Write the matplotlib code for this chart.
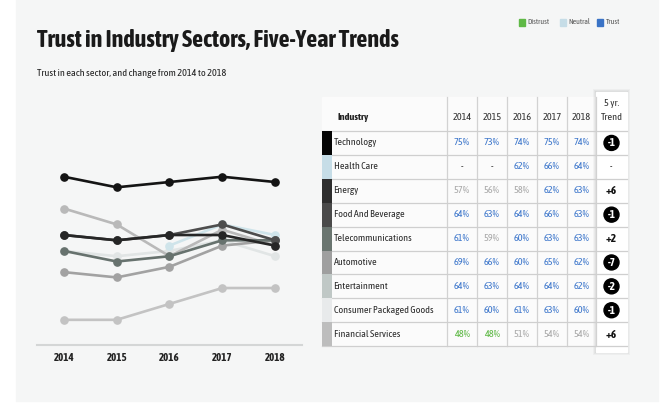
import matplotlib
matplotlib.use("Agg")
import matplotlib.pyplot as plt
from matplotlib.patches import Rectangle, Circle
from matplotlib import font_manager

# ---- data -------------------------------------------------------------
years = [2014, 2015, 2016, 2017, 2018]
industries = [
    "Technology", "Health Care", "Energy", "Food And Beverage",
    "Telecommunications", "Automotive", "Entertainment",
    "Consumer Packaged Goods", "Financial Services",
]
technology = [75, 73, 74, 75, 74]
health_care = [None, None, 62, 66, 64]
energy = [57, 56, 58, 62, 63]
food_beverage = [64, 63, 64, 66, 63]
telecom = [61, 59, 60, 63, 63]
automotive = [69, 66, 60, 65, 62]
entertainment = [64, 63, 64, 64, 62]
packaged_goods = [61, 60, 61, 63, 60]
financial = [48, 48, 51, 54, 54]
series = [technology, health_care, energy, food_beverage, telecom,
          automotive, entertainment, packaged_goods, financial]

legend_labels = ["Distrust", "Neutral", "Trust"]

# ---- fonts ------------------------------------------------------------
entries = font_manager.fontManager.ttflist
names = sorted({f.name for f in entries})
condensed = [n for n in names if "Narrow" in n or "Condensed" in n]


def is_bold(f):
    w = f.weight
    if isinstance(w, str):
        return w.lower() in ("bold", "heavy", "black", "semibold",
                             "demibold", "extra bold", "ultrabold")
    return w >= 600


bold_families = {f.name for f in entries if is_bold(f)}
cond_bold = [n for n in condensed if n in bold_families]

if cond_bold:
    base_font = cond_bold[0]
elif condensed:
    base_font = condensed[0]
else:
    base_font = "Liberation Sans"
base_scale = 1.0 if condensed else 0.86

if cond_bold:
    bold_font, bold_scale = base_font, 1.0
else:
    bold_font, bold_scale = "Liberation Sans", 0.87

plt.rcParams["font.family"] = [base_font, "DejaVu Sans"]
BOLD = [bold_font, "DejaVu Sans"]


def fs(pt):
    return pt * base_scale


def fb(pt):
    return pt * bold_scale


swatch_colors = ["#050505", "#c6dde7", "#2e2e2e", "#4a4a4a", "#6a7570",
                 "#9f9f9f", "#c0c8c6", "#e8eaeb", "#bdbdbd"]
line_colors = ["#141414", "#cfe4ea", "#a2a2a2", "#4d4d4d", "#67726e",
               "#b9b9b9", "#262626", "#e1e5e5", "#c3c3c3"]
draw_order = [7, 1, 8, 5, 2, 4, 3, 6, 0]
level_colors = {"Distrust": "#5fb946", "Neutral": "#a9a9a9", "Trust": "#3f78cc"}
legend_colors = ["#5fb946", "#c6dde7", "#3a73c6"]
panel_color = "#f5f6f6"


def level(v):
    if v >= 60:
        return "Trust"
    if v >= 50:
        return "Neutral"
    return "Distrust"


W, H = 672, 403
fig = plt.figure(figsize=(W / 100, H / 100), dpi=100)
fig.patch.set_facecolor("white")

# background / table canvas in pixel units
bg = fig.add_axes([0, 0, 1, 1])
bg.set_xlim(0, W)
bg.set_ylim(H, 0)
bg.axis("off")
bg.add_patch(Rectangle((16, 0), 642, 401, color=panel_color, zorder=0))

# titles
bg.text(37, 41, "Trust in Industry Sectors, Five-Year Trends",
        fontsize=fb(17.3), fontweight="bold", family=BOLD, color="#1a1a1a",
        va="center", ha="left")
bg.text(37, 74, "Trust in each sector, and change from 2014 to 2018",
        fontsize=fs(8.2) * 0.9, color="#222222", va="center", ha="left")

# legend
lx = [519, 560, 597]
for x, lab, c in zip(lx, legend_labels, legend_colors):
    bg.add_patch(Rectangle((x, 18.5), 6, 7, color=c, zorder=2))
    bg.text(x + 8.5, 22, lab, fontsize=5.6, color="#555555", va="center",
            ha="left")

# ---- line chart -------------------------------------------------------
ax = fig.add_axes([37 / W, 1 - 345 / H, (302 - 37) / W, (345 - 150) / H])
ax.patch.set_alpha(0)
for i in draw_order:
    xs = [y for y, v in zip(years, series[i]) if v is not None]
    vs = [v for v in series[i] if v is not None]
    ax.plot(xs, vs, color=line_colors[i], lw=1.9, marker="o", ms=5.2,
            solid_capstyle="round")
ax.set_xlim(2013.49, 2018.51)
ax.set_ylim(43.25, 80.04)
ax.set_xticks(years)
ax.set_xticklabels([str(y) for y in years], fontweight="bold",
                   fontsize=fb(7.8), family=BOLD, color="#222222")
ax.tick_params(axis="x", length=0, pad=5)
ax.set_yticks([])
for s in ["left", "right", "top"]:
    ax.spines[s].set_visible(False)
ax.spines["bottom"].set_color("#d4d6d6")
ax.spines["bottom"].set_linewidth(1.5)

# ---- table ------------------------------------------------------------
row_top = 131.0
row_h = 23.9
n = len(industries)
table_bottom = row_top + n * row_h
col_edges = [447, 477, 507, 537, 567, 596, 627]
col_centers = [(a + b) / 2 for a, b in zip(col_edges[:-1], col_edges[1:])]

# table body
bg.add_patch(Rectangle((322, 97), 596 - 322, table_bottom - 97,
                       color="#fbfbfb", zorder=1))
# trend column card with soft shadow
for k, a in enumerate([0.05, 0.04, 0.03]):
    d = k + 1
    bg.add_patch(Rectangle((596 - d, 92 - d), 31 + 2 * d, 260 + 2 * d,
                           color="black", alpha=a, lw=0, zorder=1.5))
bg.add_patch(Rectangle((596, 92), 31, 260, color="white", zorder=2))

# grid lines
for e in col_edges[:-1]:
    bg.plot([e, e], [97, table_bottom], color="#d2d2d2", lw=0.9, zorder=3)
for r in range(n + 1):
    yy = row_top + r * row_h
    bg.plot([322, 627], [yy, yy], color="#cfcfcf", lw=0.9, zorder=3)

# header
bg.text(337, 118, "Industry", fontsize=fb(7.4), fontweight="bold",
        family=BOLD, color="#222222", va="center", ha="left", zorder=4)
for x, y in zip(col_centers[:5], years):
    bg.text(x, 118, str(y), fontsize=fs(7.4), color="#333333", va="center",
            ha="center", zorder=4)
bg.text(col_centers[5], 103, "5 yr.", fontsize=fs(7.4), color="#333333",
        va="center", ha="center", zorder=4)
bg.text(col_centers[5], 117.5, "Trend", fontsize=fs(7.4), color="#333333",
        va="center", ha="center", zorder=4)

# rows
for r, (name, vals) in enumerate(zip(industries, series)):
    y0 = row_top + r * row_h
    yc = y0 + row_h / 2
    bg.add_patch(Rectangle((322, y0), 10, row_h, color=swatch_colors[r],
                           lw=0, zorder=3.5))
    bg.text(333.5, yc, name, fontsize=fs(7.6) * 0.95, color="#2a2a2a",
            va="center", ha="left", zorder=4)
    for x, v in zip(col_centers[:5], vals):
        if v is None:
            bg.text(x, yc, "-", fontsize=fs(7.4), color="#333333",
                    va="center", ha="center", zorder=4)
        else:
            bg.text(x, yc, f"{v}%", fontsize=fs(7.4),
                    color=level_colors[level(v)], va="center", ha="center",
                    zorder=4)
    xc = col_centers[5]
    if vals[0] is None or vals[-1] is None:
        bg.text(xc, yc, "-", fontsize=7, color="#222222", va="center",
                ha="center", zorder=4)
    else:
        change = vals[-1] - vals[0]
        if change < 0:
            bg.add_patch(Circle((xc, yc), 7.5, color="black", zorder=4))
            bg.text(xc, yc, f"{change}", fontsize=fb(8), fontweight="bold",
                    family=BOLD, color="white", va="center", ha="center",
                    zorder=5)
        else:
            bg.text(xc, yc, f"+{change}", fontsize=fb(8), fontweight="bold",
                    family=BOLD, color="#111111", va="center", ha="center",
                    zorder=4)

fig.savefig("out.png", dpi=100, facecolor=fig.get_facecolor())
